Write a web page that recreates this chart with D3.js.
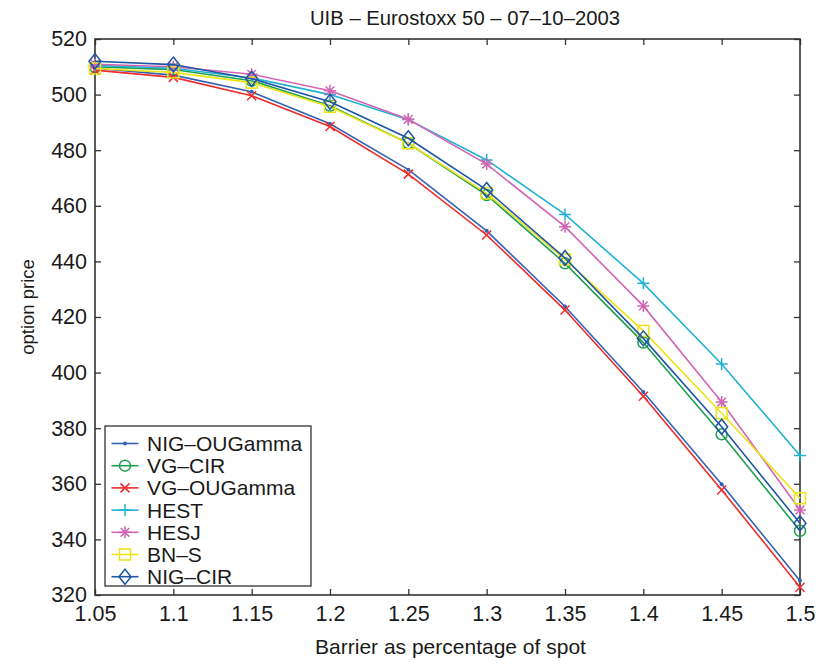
<!DOCTYPE html>
<html>
<head>
<meta charset="utf-8">
<script src="https://cdn.jsdelivr.net/npm/d3@7"></script>
<style>
  body { margin: 0; background: #fff; }
  svg { display: block; font-family: "Liberation Sans", Arial, Helvetica, sans-serif; }
</style>
</head>
<body>
<svg id="chart" width="833" height="665"></svg>
<script>
// ---- data ----
const barriers = [1.05, 1.1, 1.15, 1.2, 1.25, 1.3, 1.35, 1.4, 1.45, 1.5];
const xTickLabels = ["1.05", "1.1", "1.15", "1.2", "1.25", "1.3", "1.35", "1.4", "1.45", "1.5"];
const yTicks = [320, 340, 360, 380, 400, 420, 440, 460, 480, 500, 520];
const seriesNames = ["NIG\u2013OUGamma", "VG\u2013CIR", "VG\u2013OUGamma", "HEST", "HESJ", "BN\u2013S", "NIG\u2013CIR"];
const nigOUGamma = [509.5, 507.0, 501.0, 489.5, 473.0, 451.0, 423.8, 393.0, 359.8, 325.1];
const vgCIR      = [510.0, 509.0, 505.0, 496.0, 482.5, 463.9, 439.3, 410.8, 377.8, 343.1];
const vgOUGamma  = [508.8, 506.2, 499.6, 488.5, 471.4, 449.5, 422.5, 391.5, 357.8, 322.8];
const hest       = [510.5, 509.5, 506.0, 500.0, 491.0, 476.5, 456.9, 432.1, 403.1, 370.2];
const hesj       = [510.9, 510.0, 507.3, 501.4, 491.1, 475.0, 452.5, 424.0, 389.4, 350.6];
const bns        = [509.4, 508.0, 504.3, 495.6, 482.5, 464.5, 440.7, 415.0, 385.4, 354.8];
const nigCIR     = [512.0, 510.8, 505.7, 497.4, 484.3, 465.7, 441.2, 412.3, 380.5, 345.8];
const seriesValues = [nigOUGamma, vgCIR, vgOUGamma, hest, hesj, bns, nigCIR];

// ---- styles ----
const colors  = ["#3563b4", "#1f9f4f", "#ee2c2c", "#20b2d3", "#d266b4", "#ece318", "#1f55a6"];
const markers = ["dot", "circle", "x", "plus", "star", "square", "diamond"];

const svg = d3.select("#chart");
const L = 95, R = 800, T = 39, B = 595;
const x = d3.scaleLinear().domain([1.05, 1.5]).range([L, R]);
const y = d3.scaleLinear().domain([320, 520]).range([B, T]);
const axisColor = "#333";

// ticks (inward, all four sides)
const g = svg.append("g");
const xAxB = d3.axisBottom(x).tickValues(barriers).tickSize(-6).tickFormat((d, i) => xTickLabels[i]).tickPadding(11);
const xAxT = d3.axisTop(x).tickValues(barriers).tickSize(-6).tickFormat("");
const yAxL = d3.axisLeft(y).tickValues(yTicks).tickSize(-6).tickFormat(d3.format("d")).tickPadding(8);
const yAxR = d3.axisRight(y).tickValues(yTicks).tickSize(-6).tickFormat("");
function styleAxis(sel) {
  sel.select(".domain").remove();
  sel.selectAll(".tick line").attr("stroke", axisColor).attr("stroke-width", 1.3);
  sel.selectAll(".tick text").attr("fill", "#1a1a1a").style("font-size", "21.5px");
}
g.append("g").attr("transform", `translate(0,${B})`).call(xAxB).call(styleAxis);
g.append("g").attr("transform", `translate(0,${T})`).call(xAxT).call(styleAxis);
g.append("g").attr("transform", `translate(${L},0)`).call(yAxL).call(styleAxis);
g.append("g").attr("transform", `translate(${R},0)`).call(yAxR).call(styleAxis);
g.selectAll(".tick text").style("font-family", "'Liberation Sans', Arial, sans-serif");

// frame
svg.append("rect").attr("x", L).attr("y", T).attr("width", R - L).attr("height", B - T)
  .attr("fill", "none").attr("stroke", axisColor).attr("stroke-width", 1.6);

// marker drawing
function drawMarker(sel, type, color, cx, cy) {
  const m = sel.append("g").attr("transform", `translate(${cx},${cy})`);
  const st = (e) => e.attr("stroke", color).attr("stroke-width", 1.5).attr("fill", "none");
  if (type === "dot") {
    m.append("circle").attr("r", 2).attr("fill", color);
  } else if (type === "circle") {
    st(m.append("circle").attr("r", 5.5));
  } else if (type === "x") {
    st(m.append("path").attr("d", "M-4.5,-4.5L4.5,4.5M-4.5,4.5L4.5,-4.5"));
  } else if (type === "plus") {
    st(m.append("path").attr("d", "M-6,0L6,0M0,-6L0,6"));
  } else if (type === "star") {
    st(m.append("path").attr("d", "M-6,0L6,0M0,-6L0,6M-4.3,-4.3L4.3,4.3M-4.3,4.3L4.3,-4.3"));
  } else if (type === "square") {
    st(m.append("rect").attr("x", -5.5).attr("y", -5.5).attr("width", 11).attr("height", 11));
  } else if (type === "diamond") {
    st(m.append("path").attr("d", "M0,-7.5L6,0L0,7.5L-6,0Z"));
  }
}

// series
const line = d3.line().x((d, i) => x(barriers[i])).y(d => y(d));
const plot = svg.append("g");
seriesValues.forEach((vals, si) => {
  plot.append("path").datum(vals).attr("d", line)
    .attr("fill", "none").attr("stroke", colors[si]).attr("stroke-width", 1.6);
  vals.forEach((v, i) => drawMarker(plot, markers[si], colors[si], x(barriers[i]), y(v)));
});

// legend
const lg = svg.append("g");
lg.append("rect").attr("x", 105).attr("y", 426).attr("width", 206).attr("height", 160)
  .attr("fill", "#fff").attr("stroke", axisColor).attr("stroke-width", 1.3);
seriesNames.forEach((name, i) => {
  const yy = 443.5 + i * 22.2;
  lg.append("line").attr("x1", 111.5).attr("x2", 138.5).attr("y1", yy).attr("y2", yy)
    .attr("stroke", colors[i]).attr("stroke-width", 1.6);
  drawMarker(lg, markers[i], colors[i], 125, yy);
  lg.append("text").attr("x", 147).attr("y", yy).attr("dy", "0.36em")
    .attr("fill", "#1a1a1a").style("font-size", "21px").text(name);
});

// titles
svg.append("text").attr("x", 465).attr("y", 25).attr("text-anchor", "middle")
  .attr("fill", "#1a1a1a").style("font-size", "20.3px").text("UIB \u2013 Eurostoxx 50 \u2013 07\u201310\u20132003");
svg.append("text").attr("x", (L + R) / 2 + 3).attr("y", 654).attr("text-anchor", "middle")
  .attr("fill", "#1a1a1a").style("font-size", "21px").text("Barrier as percentage of spot");
svg.append("text").attr("transform", `translate(34,307) rotate(-90)`).attr("text-anchor", "middle")
  .attr("fill", "#1a1a1a").style("font-size", "18.5px").text("option price");
</script>
</body>
</html>
